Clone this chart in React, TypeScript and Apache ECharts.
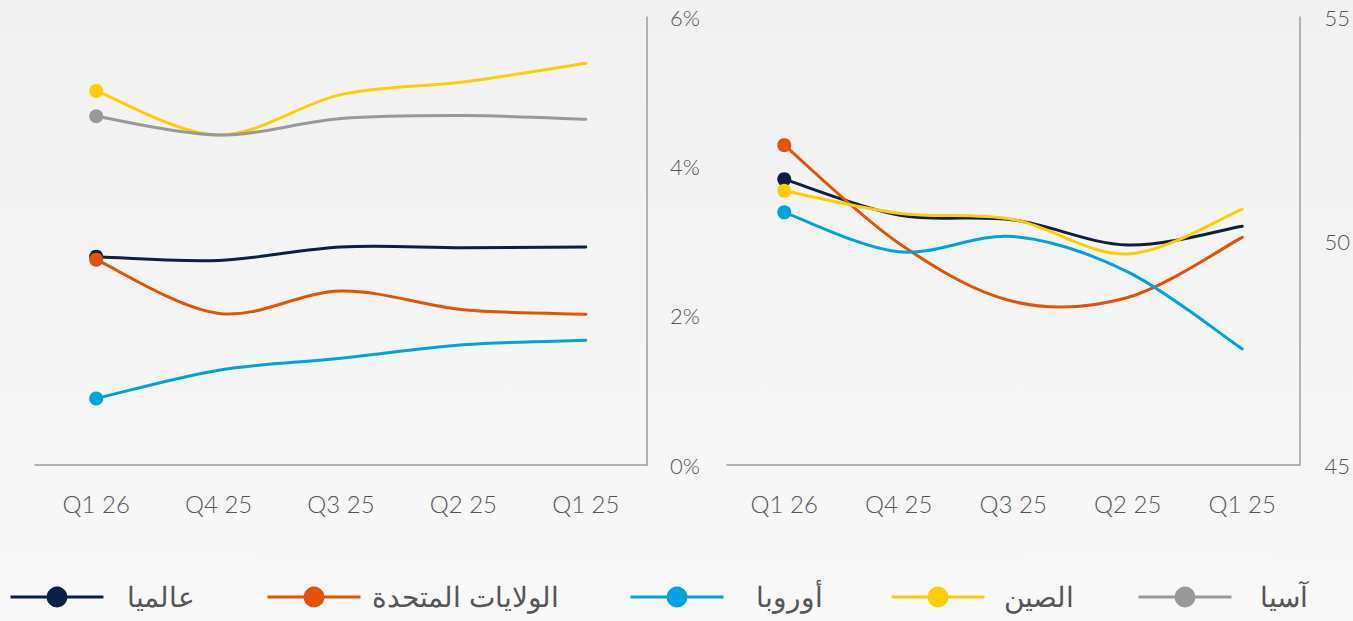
import React, { useEffect, useRef } from "react";
import * as echarts from "echarts";

const categories = ["Q1 26", "Q4 25", "Q3 25", "Q2 25", "Q1 25"];
const seriesNames = ["عالميا", "الولايات المتحدة", "أوروبا", "الصين", "آسيا"];
const seriesColors = ["#0b1f44", "#e35205", "#00a3e0", "#ffcd00", "#97999b"];

// Left panel (%)
const gdpGlobal = [2.79, 2.74, 2.92, 2.91, 2.92];
const gdpUS = [2.75, 2.03, 2.33, 2.08, 2.02];
const gdpEurope = [0.89, 1.27, 1.43, 1.61, 1.67];
const gdpChina = [5.01, 4.42, 4.96, 5.13, 5.38];
const gdpAsia = [4.67, 4.42, 4.64, 4.68, 4.63];

// Right panel (index)
const pmiGlobal = [51.38, 50.58, 50.47, 49.91, 50.33];
const pmiUS = [52.14, 49.95, 48.65, 48.74, 50.08];
const pmiEurope = [50.64, 49.76, 50.1, 49.31, 47.59];
const pmiChina = [51.12, 50.62, 50.48, 49.71, 50.71];

const leftTicks = { min: 0, max: 6, interval: 2 };
const rightTicks = { min: 45, max: 55, interval: 5 };

const legendLeft = [9, 266, 629, 890, 1137];
const legendTextGap = [18, 6, 27, 14, 23];

const FONT = "Lato, 'DejaVu Sans', sans-serif";
const LEGEND_FONT = "'DejaVu Sans', sans-serif";
const TEXT_COLOR = "#555555";
const AXIS_COLOR = "#9c9c9c";

// Catmull-Rom style smoothing (Excel-like) through the points given by the axes
function smoothPath(pts: number[][]): string {
  if (!pts.length) return "";
  let d = `M${pts[0][0]},${pts[0][1]}`;
  for (let i = 0; i < pts.length - 1; i++) {
    const p0 = pts[Math.max(0, i - 1)];
    const p1 = pts[i];
    const p2 = pts[i + 1];
    const p3 = pts[Math.min(pts.length - 1, i + 2)];
    const c1x = p1[0] + (p2[0] - p0[0]) / 6;
    const c1y = p1[1] + (p2[1] - p0[1]) / 6;
    const c2x = p2[0] - (p3[0] - p1[0]) / 6;
    const c2y = p2[1] - (p3[1] - p1[1]) / 6;
    d += ` C${c1x},${c1y} ${c2x},${c2y} ${p2[0]},${p2[1]}`;
  }
  return d;
}

export default function App() {
  const ref = useRef<HTMLDivElement>(null);

  useEffect(() => {
    if (!ref.current) return;
    const chart = echarts.init(ref.current, null, { renderer: "svg" });

    const markerSeries = (name: string, color: string, data: number[], axisIndex: number) => ({
      type: "line",
      name,
      xAxisIndex: axisIndex,
      yAxisIndex: axisIndex,
      data,
      symbol: "circle",
      showSymbol: true,
      showAllSymbol: true,
      symbolSize: (_v: any, p: any) => (p.dataIndex === 0 ? 14 : 0),
      lineStyle: { color, width: 3, opacity: 0 },
      itemStyle: { color },
      emphasis: { disabled: true },
      silent: true,
      z: 5,
    });

    const curveSeries = (name: string, color: string, data: number[], axisIndex: number) => ({
      type: "custom",
      name,
      xAxisIndex: axisIndex,
      yAxisIndex: axisIndex,
      data: data.map((v, i) => [i, v]),
      encode: { x: 0, y: 1 },
      silent: true,
      z: 2,
      renderItem: (params: any, api: any) => {
        if (params.dataIndex !== 0) return null;
        const pts = data.map((v, i) => api.coord([i, v]));
        return {
          type: "path",
          shape: { pathData: smoothPath(pts) },
          style: { stroke: color, lineWidth: 3, fill: "none", lineCap: "round", lineJoin: "round" },
        };
      },
    });

    const leftData = [gdpGlobal, gdpUS, gdpEurope, gdpChina, gdpAsia];
    const rightData = [pmiGlobal, pmiUS, pmiEurope, pmiChina];

    const series: any[] = [];
    leftData.forEach((d, i) => series.push(markerSeries(seriesNames[i], seriesColors[i], d, 0)));
    rightData.forEach((d, i) => series.push(markerSeries(seriesNames[i], seriesColors[i], d, 1)));
    leftData.forEach((d, i) => series.push(curveSeries(seriesNames[i], seriesColors[i], d, 0)));
    rightData.forEach((d, i) => series.push(curveSeries(seriesNames[i], seriesColors[i], d, 1)));

    const xAxisBase = {
      type: "category",
      data: categories,
      boundaryGap: true,
      axisLine: { show: true, lineStyle: { color: AXIS_COLOR, width: 1.5 } },
      axisTick: { show: false },
      axisLabel: {
        color: TEXT_COLOR,
        fontSize: 24,
        fontFamily: FONT,
        fontWeight: 300,
        margin: 26,
      },
      splitLine: { show: false },
    };

    const yAxisBase = {
      type: "value",
      position: "right",
      axisLine: { show: true, lineStyle: { color: AXIS_COLOR, width: 1.5 } },
      axisTick: { show: false },
      splitLine: { show: false },
    };

    const option: any = {
      animation: false,
      backgroundColor: "transparent",
      grid: [
        { left: 35, right: 1353 - 647, top: 17, bottom: 621 - 465 },
        { left: 727, right: 1353 - 1300, top: 17, bottom: 621 - 465 },
      ],
      xAxis: [
        { ...xAxisBase, gridIndex: 0 },
        { ...xAxisBase, gridIndex: 1 },
      ],
      yAxis: [
        {
          ...yAxisBase,
          gridIndex: 0,
          ...leftTicks,
          axisLabel: {
            color: TEXT_COLOR,
            fontSize: 22,
            fontFamily: FONT,
            fontWeight: 300,
            margin: 23,
            formatter: "{value}%",
          },
        },
        {
          ...yAxisBase,
          gridIndex: 1,
          ...rightTicks,
          axisLabel: {
            color: TEXT_COLOR,
            fontSize: 22,
            fontFamily: FONT,
            fontWeight: 300,
            margin: 25,
          },
        },
      ],
      legend: seriesNames.map((n, i) => ({
        data: [n],
        left: legendLeft[i],
        top: 583,
        padding: 0,
        itemWidth: 93,
        itemHeight: 26,
        selectedMode: false,
        lineStyle: { color: seriesColors[i], width: 3, opacity: 1 },
        itemStyle: { color: seriesColors[i] },
        textStyle: {
          color: TEXT_COLOR,
          fontSize: 28,
          fontFamily: LEGEND_FONT,
          fontWeight: 200,
          padding: [8, 0, 0, legendTextGap[i]],
        },
      })),
      series,
    };

    chart.setOption(option);
    return () => chart.dispose();
  }, []);

  return (
    <div
      style={{
        position: "fixed",
        left: 0,
        top: 0,
        width: 1353,
        height: 621,
        background: "linear-gradient(#f1f1f1, #f8f8f8)",
      }}
    >
      <div ref={ref} style={{ width: 1353, height: 621 }} />
    </div>
  );
}
